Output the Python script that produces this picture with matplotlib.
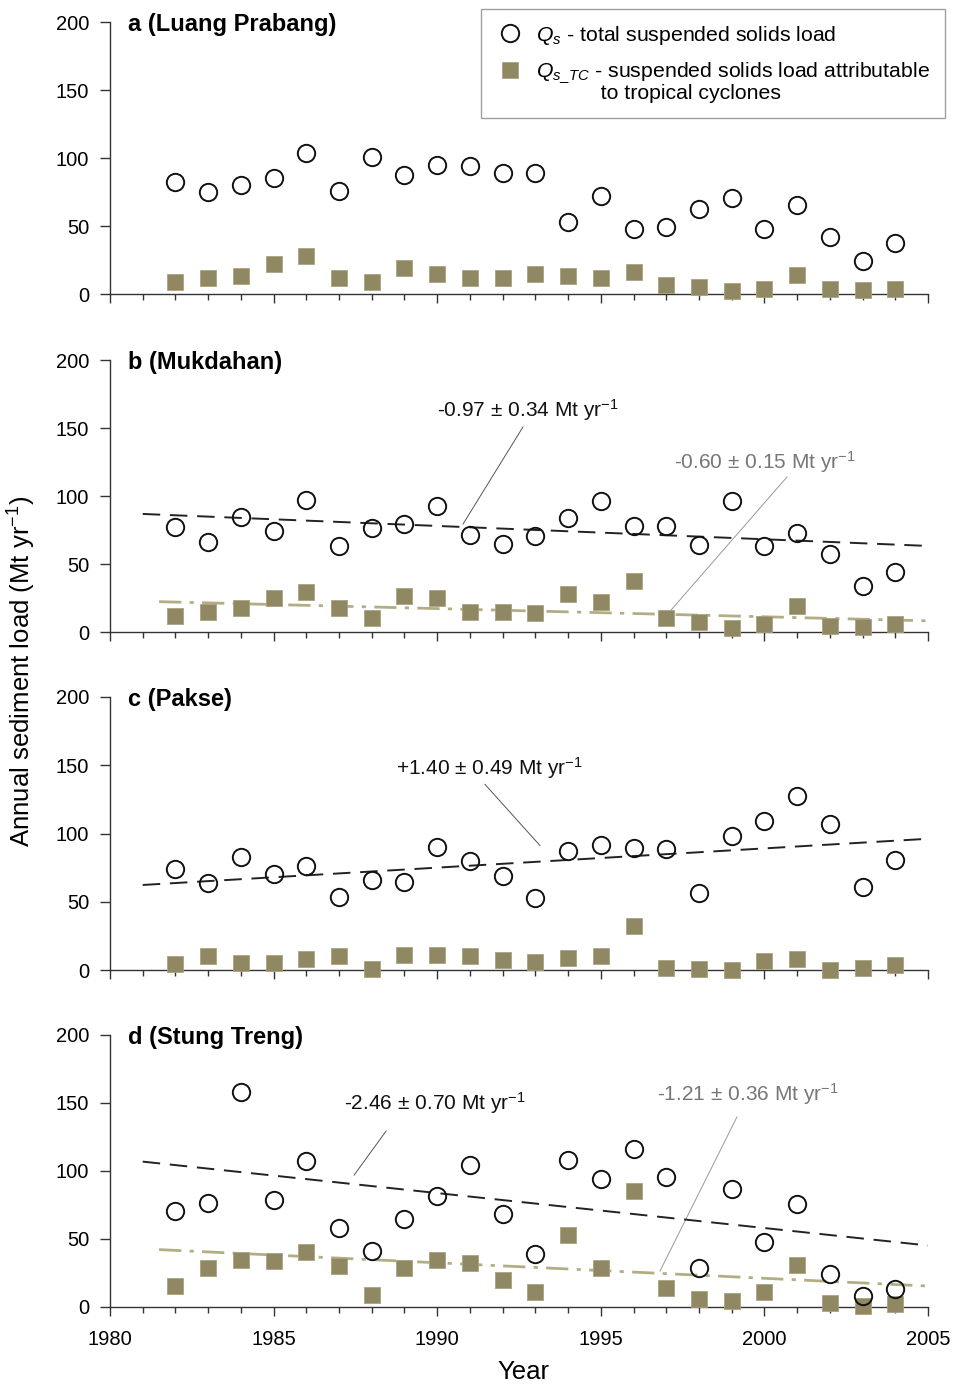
import numpy as np
import matplotlib
matplotlib.use("Agg")
import matplotlib.pyplot as plt
from matplotlib.ticker import MultipleLocator
from matplotlib.legend_handler import HandlerLine2D
from matplotlib.transforms import Affine2D

plt.rcParams['font.family'] = ['Liberation Sans', 'DejaVu Sans']
plt.rcParams['mathtext.fontset'] = 'custom'
plt.rcParams['mathtext.rm'] = 'Liberation Sans'
plt.rcParams['mathtext.it'] = 'Liberation Sans:italic'
plt.rcParams['mathtext.bf'] = 'Liberation Sans:bold'

years = list(range(1982, 2005))

# Panel a (Luang Prabang)
qs_a = [82.7, 74.9, 79.8, 85.1, 103.4, 76.1, 100.5, 87.6, 94.6, 93.9, 88.8, 88.8,
        52.7, 72.0, 47.8, 49.5, 62.4, 70.7, 47.6, 65.4, 42.0, 24.4, 37.8]
tc_a = [8.5, 12.0, 13.4, 21.7, 28.0, 12.0, 8.5, 18.8, 14.9, 11.5, 11.5, 14.9,
        12.9, 12.0, 15.9, 6.3, 5.1, 2.0, 3.7, 13.7, 3.7, 2.7, 3.9]
# Panel b (Mukdahan)
qs_b = [77.5, 66.4, 84.8, 74.3, 97.0, 63.2, 76.2, 79.2, 92.6, 71.3, 64.7, 70.8,
        83.6, 96.3, 78.2, 77.7, 64.0, 96.6, 63.0, 73.0, 57.1, 33.6, 44.4]
tc_b = [11.8, 14.5, 17.9, 24.8, 29.7, 17.4, 10.0, 26.7, 25.2, 15.0, 15.0, 14.2,
        28.2, 22.3, 37.7, 10.0, 7.1, 3.2, 5.6, 19.4, 4.7, 3.4, 5.9]
# Panel c (Pakse)
qs_c = [73.8, 63.5, 83.1, 70.3, 76.5, 53.2, 65.9, 64.2, 90.4, 79.9, 68.9, 52.5,
        87.5, 91.7, 89.7, 88.5, 56.1, 98.3, 109.3, 127.2, 107.1, 61.0, 80.6]
tc_c = [4.2, 10.0, 5.4, 5.4, 7.8, 10.0, 1.0, 10.8, 10.8, 10.0, 7.6, 5.9,
        9.1, 10.0, 32.4, 1.7, 1.0, 0.2, 6.4, 8.3, 0.2, 1.7, 3.4]
# Panel d (Stung Treng)
qs_d = [70.6, 76.7, 158.3, 78.4, 107.4, 58.3, 41.2, 64.5, 81.6, 104.2, 68.1, 38.7,
        107.8, 93.9, 115.9, 95.6, 28.9, 86.5, 47.8, 76.0, 24.0, 8.1, 13.0]
tc_d = [15.2, 28.9, 34.6, 33.8, 40.7, 30.1, 8.6, 28.9, 34.3, 32.6, 19.6, 11.0,
        52.9, 28.9, 85.3, 14.2, 5.6, 4.4, 10.8, 30.9, 3.2, 0.7, 2.5]

titles = ['a (Luang Prabang)', 'b (Mukdahan)', 'c (Pakse)', 'd (Stung Treng)']

# trend lines: (start year, value at start, slope)
trend_qs = [None, (1981.0, 86.8, -0.98), (1981.0, 62.3, 1.41), (1981.0, 106.9, -2.57)]
trend_tc = [None, (1981.5, 22.3, -0.60), None, (1981.5, 42.2, -1.14)]

# annotations: (text, label x, label y, leader start, leader end, colour)
annots = [
    [],
    [(r'-0.97 ± 0.34 Mt yr$^{-1}$', 1992.78, 163, (1992.62, 150.7), (1990.79, 79.4), '#111111'),
     (r'-0.60 ± 0.15 Mt yr$^{-1}$', 2000.02, 125, (2000.69, 114), (1997.15, 16.2), '#777777')],
    [(r'+1.40 ± 0.49 Mt yr$^{-1}$', 1991.61, 147.8, (1991.46, 136), (1993.14, 91.2), '#111111')],
    [(r'-2.46 ± 0.70 Mt yr$^{-1}$', 1989.93, 150, (1988.44, 129.4), (1987.46, 97), '#111111'),
     (r'-1.21 ± 0.36 Mt yr$^{-1}$', 1999.5, 156.6, (1999.16, 139.7), (1996.81, 26.5), '#777777')],
]

qs_all = [qs_a, qs_b, qs_c, qs_d]
tc_all = [tc_a, tc_b, tc_c, tc_d]

W, H = 956, 1387
fig = plt.figure(figsize=(W / 100, H / 100), dpi=100)

panel_px = [(22, 294), (360, 632), (697, 970), (1035, 1307)]
x0, x1 = 110, 928
sq_color = '#8f8862'
tc_line = '#b3ad86'


class RaisedHandler(HandlerLine2D):
    """Legend handle shifted up so it sits beside the first line of a two-line label."""
    def __init__(self, shift_px, **kw):
        super().__init__(**kw)
        self.shift_px = shift_px

    def create_artists(self, legend, orig_handle, xdescent, ydescent, width, height, fontsize, trans):
        t = trans + Affine2D().translate(0, self.shift_px)
        return super().create_artists(legend, orig_handle, xdescent, ydescent, width, height, fontsize, t)


axes = []
for i in range(4):
    top, bot = panel_px[i]
    ax = fig.add_axes([x0 / W, 1 - bot / H, (x1 - x0) / W, (bot - top) / H])
    axes.append(ax)
    ax.set_xlim(1980, 2005)
    ax.set_ylim(0, 200)
    for s in ['top', 'right']:
        ax.spines[s].set_visible(False)
    for s in ['left', 'bottom']:
        ax.spines[s].set_color('#333333')
        ax.spines[s].set_linewidth(1.0)
    ax.xaxis.set_major_locator(MultipleLocator(5))
    ax.xaxis.set_minor_locator(MultipleLocator(1))
    ax.yaxis.set_major_locator(MultipleLocator(50))
    ax.tick_params(axis='x', which='major', direction='out', length=6.5, width=1, color='#333333', labelsize=14.5, pad=10)
    ax.tick_params(axis='x', which='minor', direction='out', length=4.5, width=1, color='#333333')
    ax.tick_params(axis='y', which='major', direction='out', length=7, width=1, color='#333333', labelsize=14.5, pad=8)
    if i < 3:
        ax.tick_params(axis='x', labelbottom=False)

    # trend lines
    if trend_qs[i] is not None:
        xs, v0, sl = trend_qs[i]
        xx = np.array([xs, 2005])
        ax.plot(xx, v0 + sl * (xx - xs), color='#222222', lw=1.4, ls=(0, (9, 5)), zorder=2)
    if trend_tc[i] is not None:
        xs, v0, sl = trend_tc[i]
        xx = np.array([xs, 2005])
        ax.plot(xx, v0 + sl * (xx - xs), color=tc_line, lw=2.0, ls=(0, (8, 3, 1.5, 3)), zorder=2)

    sq, = ax.plot(years, tc_all[i], ls='none', marker='s', ms=11.5, mfc=sq_color, mec='#a9a381',
                  mew=0.6, clip_on=False, zorder=3)
    ci, = ax.plot(years, qs_all[i], ls='none', marker='o', ms=12.5, mfc='none', mec='#111111',
                  mew=1.4, clip_on=False, zorder=4)

    ax.text(1980.55, 198, titles[i], fontsize=17, fontweight='bold', ha='left', va='center')

    for txt, lx, ly, p0, p1, col in annots[i]:
        ax.text(lx, ly, txt, fontsize=15, ha='center', va='center', color=col)
        ax.plot([p0[0], p1[0]], [p0[1], p1[1]], color='#555555' if col == '#111111' else '#999999',
                lw=0.7, zorder=1)

    if i == 0:
        h_ci, h_sq = ci, sq

leg = fig.legend([h_ci, h_sq],
                 [r'$Q_s$ - total suspended solids load',
                  r'$Q_{s\_TC}$ - suspended solids load attributable' + '\n' + '           to tropical cyclones'],
                 loc='upper right', bbox_to_anchor=(945 / W, 1 - 9 / H), fontsize=15.3,
                 frameon=True, fancybox=False, edgecolor='#888888', borderpad=0.7,
                 handletextpad=0.6, labelspacing=0.62, handlelength=1.3, borderaxespad=0,
                 handler_map={h_sq: RaisedHandler(12)})
leg.get_frame().set_linewidth(1.0)
for t in leg.get_texts():
    t.set_linespacing(0.95)

fig.text(22 / W, 1 - 671 / H, r'Annual sediment load (Mt yr$^{-1}$)', rotation=90,
         ha='center', va='center', fontsize=18.5)
fig.text(523 / W, 1 - 1372 / H, 'Year', ha='center', va='center', fontsize=18.5)

fig.savefig('out.png', dpi=100)
